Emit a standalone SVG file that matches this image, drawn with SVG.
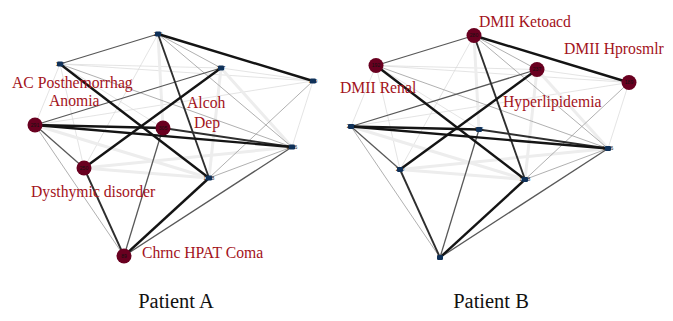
<svg xmlns="http://www.w3.org/2000/svg" width="673" height="321" viewBox="0 0 673 321">
<style>
.k1{stroke:#141414;stroke-width:2.4;fill:none}
.k2{stroke:#2e2e2e;stroke-width:1.9;fill:none}
.k3{stroke:#585858;stroke-width:1.3;fill:none}
.k4{stroke:#9c9c9c;stroke-width:0.8;fill:none}
.k5{stroke:#ededed;stroke-width:3;fill:none}
.k6{stroke:#d8d8d8;stroke-width:0.7;fill:none}
.red{fill:#690020}
.blue{fill:#0f3159}
.nl{font-family:"Liberation Sans",Arial,sans-serif;font-size:5px;fill:#111;text-anchor:middle}
.lab{font-family:"Liberation Serif","Times New Roman",serif;font-size:15.7px;fill:#a3131b}
.title{font-family:"Liberation Serif","Times New Roman",serif;font-size:20.5px;fill:#111;text-anchor:middle}
</style>
<defs>
<g id="edgeset">
<line class="k6" x1="158" y1="34" x2="84" y2="168"/>
<line class="k6" x1="60" y1="64" x2="313" y2="81"/>
<line class="k6" x1="60" y1="64" x2="221" y2="68"/>
<line class="k6" x1="60" y1="64" x2="35" y2="125"/>
<line class="k6" x1="60" y1="64" x2="84" y2="168"/>
<line class="k6" x1="60" y1="64" x2="163" y2="128"/>
<line class="k6" x1="221" y1="68" x2="313" y2="81"/>
<line class="k6" x1="313" y1="81" x2="292" y2="147"/>
<line class="k6" x1="313" y1="81" x2="35" y2="125"/>
<line class="k5" x1="221" y1="68" x2="209" y2="178"/>
<line class="k5" x1="84" y1="168" x2="209" y2="178"/>
<line class="k5" x1="35" y1="125" x2="209" y2="178"/>
<line class="k5" x1="221" y1="68" x2="292" y2="147"/>
<line class="k5" x1="84" y1="168" x2="292" y2="147"/>
<line class="k5" x1="158" y1="34" x2="163" y2="128"/>
<line class="k4" x1="158" y1="34" x2="221" y2="68"/>
<line class="k4" x1="158" y1="34" x2="292" y2="147"/>
<line class="k4" x1="60" y1="64" x2="292" y2="147"/>
<line class="k4" x1="313" y1="81" x2="209" y2="178"/>
<line class="k4" x1="292" y1="147" x2="209" y2="178"/>
<line class="k4" x1="35" y1="125" x2="124" y2="256"/>
<line class="k3" x1="158" y1="34" x2="60" y2="64"/>
<line class="k3" x1="221" y1="68" x2="35" y2="125"/>
<line class="k3" x1="35" y1="125" x2="84" y2="168"/>
<line class="k3" x1="292" y1="147" x2="124" y2="256"/>
<line class="k3" x1="163" y1="128" x2="124" y2="256"/>
<line class="k2" x1="158" y1="34" x2="209" y2="178"/>
<line class="k2" x1="84" y1="168" x2="124" y2="256"/>
<line class="k2" x1="163" y1="128" x2="292" y2="147"/>
<line class="k1" x1="158" y1="34" x2="313" y2="81"/>
<line class="k1" x1="221" y1="68" x2="84" y2="168"/>
<line class="k1" x1="35" y1="125" x2="163" y2="128"/>
<line class="k1" x1="35" y1="125" x2="292" y2="147"/>
<line class="k1" x1="209" y1="178" x2="124" y2="256"/>
<line class="k1" x1="60" y1="64" x2="209" y2="178"/>
</g>
</defs>

<g id="panelA">
<g id="connectorsA"><use href="#edgeset"/></g>
<g id="a-280"><text class="nl" x="158" y="35.8">280</text><rect class="blue" x="155" y="31.5" width="6" height="5" rx="1.2"/></g>
<g id="a-192"><text class="nl" x="60" y="65.8">192</text><rect class="blue" x="57" y="61.5" width="6" height="5" rx="1.2"/></g>
<g id="a-237"><text class="nl" x="221" y="69.8">237</text><rect class="blue" x="218" y="65.5" width="6" height="5" rx="1.2"/></g>
<g id="a-189"><text class="nl" x="313" y="82.8">189</text><rect class="blue" x="310" y="78.5" width="6" height="5" rx="1.2"/></g>
<g id="a-1186"><text class="nl" x="292" y="148.8">1186</text><rect class="blue" x="289" y="144.5" width="6" height="5" rx="1.2"/></g>
<g id="a-1188"><text class="nl" x="209" y="179.8">1188</text><rect class="blue" x="206" y="175.5" width="6" height="5" rx="1.2"/></g>
<g id="a-291"><circle class="red" cx="35" cy="125" r="7.5"/><text class="nl" x="35" y="126.8">291</text></g>
<g id="a-305"><circle class="red" cx="163" cy="128" r="7.5"/><text class="nl" x="163" y="129.8">305</text></g>
<g id="a-250"><circle class="red" cx="84" cy="168" r="7.5"/><text class="nl" x="84" y="169.8">250</text></g>
<g id="a-89"><circle class="red" cx="124" cy="256" r="7.5"/><text class="nl" x="124" y="257.8">89</text></g>
</g>

<g id="panelB" transform="translate(316,1.5)">
<g id="connectorsB"><use href="#edgeset"/></g>
<g id="b-291"><text class="nl" x="35" y="126.8">291</text><rect class="blue" x="32" y="122.5" width="6" height="5" rx="1.2"/></g>
<g id="b-305"><text class="nl" x="163" y="129.8">305</text><rect class="blue" x="160" y="125.5" width="6" height="5" rx="1.2"/></g>
<g id="b-250"><text class="nl" x="84" y="169.8">250</text><rect class="blue" x="81" y="165.5" width="6" height="5" rx="1.2"/></g>
<g id="b-89"><text class="nl" x="124" y="257.8">89</text><rect class="blue" x="121" y="253.5" width="6" height="5" rx="1.2"/></g>
<g id="b-1186"><text class="nl" x="292" y="148.8">1186</text><rect class="blue" x="289" y="144.5" width="6" height="5" rx="1.2"/></g>
<g id="b-1188"><text class="nl" x="209" y="179.8">1188</text><rect class="blue" x="206" y="175.5" width="6" height="5" rx="1.2"/></g>
<g id="b-280"><circle class="red" cx="158" cy="34" r="7.5"/><text class="nl" x="158" y="35.8">280</text></g>
<g id="b-192"><circle class="red" cx="60" cy="64" r="7.5"/><text class="nl" x="60" y="65.8">192</text></g>
<g id="b-237"><circle class="red" cx="221" cy="68" r="7.5"/><text class="nl" x="221" y="69.8">237</text></g>
<g id="b-189"><circle class="red" cx="313" cy="81" r="7.5"/><text class="nl" x="313" y="82.8">189</text></g>
</g>

<g id="labels">
<text class="lab" x="12" y="88">AC Posthemorrhag</text>
<text class="lab" x="49" y="106">Anomia</text>
<text class="lab" x="187" y="108">Alcoh</text>
<text class="lab" x="194" y="128">Dep</text>
<text class="lab" x="31" y="197">Dysthymic disorder</text>
<text class="lab" x="142" y="258">Chrnc HPAT Coma</text>
<text class="lab" x="479" y="27">DMII Ketoacd</text>
<text class="lab" x="564" y="54">DMII Hprosmlr</text>
<text class="lab" x="340" y="93">DMII Renal</text>
<text class="lab" x="503" y="107">Hyperlipidemia</text>
<text class="title" x="176" y="308">Patient A</text>
<text class="title" x="491" y="308">Patient B</text>
</g>
</svg>
